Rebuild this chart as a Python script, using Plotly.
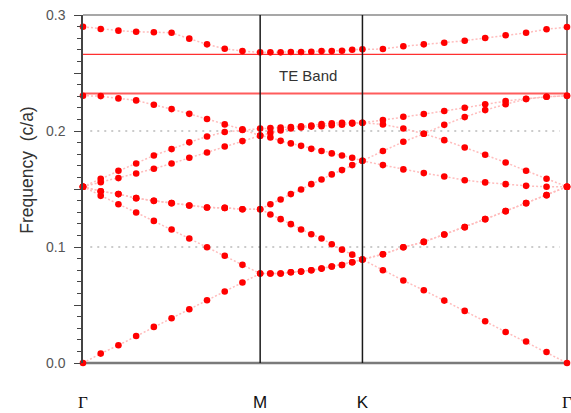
import numpy as np
import plotly.graph_objects as go

# ---- k-path (hexagonal lattice: Gamma-M-K-Gamma), 10 intervals per segment
seg_GM = 1 / np.sqrt(3)
seg_MK = 1 / 3
seg_KG = 2 / 3
n_int = 10
k_GM = np.linspace(0, seg_GM, n_int + 1)
k_MK = np.linspace(seg_GM, seg_GM + seg_MK, n_int + 1)[1:]
k_KG = np.linspace(seg_GM + seg_MK, seg_GM + seg_MK + seg_KG, n_int + 1)[1:]
k = np.concatenate([k_GM, k_MK, k_KG])
k_ticks = [0, seg_GM, seg_GM + seg_MK, seg_GM + seg_MK + seg_KG]
k_labels = ['<span style="font-family:Liberation Serif">Γ</span>', "M", "K",
            '<span style="font-family:Liberation Serif">Γ</span>']

# ---- band frequencies (c/a), 31 points each: Γ..M (11), M..K (10), K..Γ (10)
band1 = [0.0, 0.0081, 0.0153, 0.0233, 0.0311, 0.0386, 0.0463, 0.0541, 0.0616, 0.0694, 0.0771,
         0.0771, 0.0771, 0.0782, 0.0788, 0.0800, 0.0814, 0.0832, 0.0845, 0.0869, 0.0892,
         0.0800, 0.0711, 0.0627, 0.0538, 0.0449, 0.0360, 0.0267, 0.0185, 0.0095, 0.0]
band2 = [0.152, 0.1441, 0.1369, 0.1298, 0.1225, 0.1151, 0.1073, 0.0998, 0.0925, 0.0846, 0.0771,
         0.0771, 0.0771, 0.0782, 0.0788, 0.0800, 0.0814, 0.0832, 0.0845, 0.0869, 0.0892,
         0.0938, 0.0998, 0.1044, 0.1108, 0.1171, 0.1240, 0.1309, 0.1378, 0.1447, 0.152]
band3 = [0.152, 0.1481, 0.1456, 0.1421, 0.1398, 0.1378, 0.1358, 0.1341, 0.1337, 0.1326, 0.1326,
         0.1280, 0.1240, 0.1197, 0.1151, 0.1110, 0.1073, 0.1024, 0.0977, 0.0934, 0.0892,
         0.0938, 0.0998, 0.1044, 0.1108, 0.1171, 0.1240, 0.1309, 0.1378, 0.1447, 0.152]
band4 = [0.152, 0.1481, 0.1456, 0.1421, 0.1398, 0.1378, 0.1358, 0.1341, 0.1337, 0.1326, 0.1326,
         0.1369, 0.1410, 0.1456, 0.1496, 0.1542, 0.1582, 0.1626, 0.1663, 0.1706, 0.1743,
         0.1706, 0.1669, 0.1637, 0.1608, 0.1576, 0.1557, 0.1542, 0.1527, 0.1519, 0.152]
band5 = [0.152, 0.1559, 0.1594, 0.1634, 0.1674, 0.1720, 0.1769, 0.1815, 0.1867, 0.1913, 0.1960,
         0.1945, 0.1915, 0.1893, 0.1872, 0.1846, 0.1827, 0.1807, 0.1789, 0.1769, 0.1743,
         0.1827, 0.1907, 0.1976, 0.2053, 0.2120, 0.2180, 0.2230, 0.2275, 0.2295, 0.2304]
band6 = [0.152, 0.1588, 0.1657, 0.1720, 0.1789, 0.1844, 0.1902, 0.1953, 0.1991, 0.2008, 0.2022,
         0.2025, 0.2029, 0.2034, 0.2040, 0.2048, 0.2060, 0.2066, 0.2071, 0.2070, 0.2071,
         0.2094, 0.2123, 0.2146, 0.2172, 0.2200, 0.2230, 0.2258, 0.2278, 0.2295, 0.2304]
band7 = [0.2304, 0.2301, 0.2281, 0.2264, 0.2226, 0.2189, 0.2148, 0.2103, 0.2057, 0.2014, 0.1960,
         0.1984, 0.2005, 0.2021, 0.2031, 0.2038, 0.2042, 0.2049, 0.2054, 0.2064, 0.2071,
         0.2057, 0.2022, 0.1976, 0.1921, 0.1858, 0.1795, 0.1729, 0.1657, 0.1588, 0.152]
band8 = [0.2899, 0.2879, 0.2865, 0.2856, 0.2851, 0.2847, 0.2796, 0.2747, 0.2709, 0.2689, 0.2678,
         0.2678, 0.2678, 0.2681, 0.2681, 0.2683, 0.2689, 0.2689, 0.2692, 0.2701, 0.2704,
         0.2707, 0.2730, 0.2747, 0.2761, 0.2778, 0.2802, 0.2825, 0.2847, 0.2877, 0.2896]
bands = [band1, band2, band3, band4, band5, band6, band7, band8]

gap_edges = [0.2324, 0.2661]
gap_label = "TE Band"
y_tick_vals = [0.0, 0.05, 0.1, 0.15, 0.2, 0.25, 0.3]
y_tick_text = ["0.0", "", "0.1", "", "0.2", "", "0.3"]
grid_vals = [0.1, 0.2]

fig = go.Figure()

# connecting dotted lines (one trace, separated by None)
lx, ly = [], []
for b in bands:
    lx += list(k) + [None]
    ly += list(b) + [None]
fig.add_trace(go.Scatter(x=lx, y=ly, mode="lines",
                         line=dict(color="#ffbcbc", width=1.5, dash="2px,2px"),
                         hoverinfo="skip", showlegend=False))
# dots
mx, my = [], []
for b in bands:
    mx += list(k)
    my += list(b)
fig.add_trace(go.Scatter(x=mx, y=my, mode="markers",
                         marker=dict(color="#ff0000", size=6.6, line=dict(width=0)),
                         cliponaxis=False, showlegend=False))

shapes = []
# frame
shapes.append(dict(type="line", xref="paper", yref="paper", x0=0, x1=1, y0=0, y1=0,
                   line=dict(color="#7a7a7a", width=2.5), layer="below"))
shapes.append(dict(type="line", xref="paper", yref="paper", x0=1, x1=1, y0=0, y1=1,
                   line=dict(color="#7a7a7a", width=2), layer="below"))
shapes.append(dict(type="line", xref="paper", yref="paper", x0=0, x1=1, y0=1, y1=1,
                   line=dict(color="#8a8a8a", width=1.5), layer="below"))
# grid
for g in grid_vals:
    shapes.append(dict(type="line", xref="paper", yref="y", x0=0.015, x1=0.985, y0=g, y1=g,
                       line=dict(color="#bbbbbb", width=1.5, dash="2px,5px"), layer="below"))
# symmetry-point verticals
for kv in k_ticks[1:3]:
    shapes.append(dict(type="line", xref="x", yref="paper", x0=kv, x1=kv, y0=0, y1=1,
                       line=dict(color="#1a1a1a", width=1.5), layer="above"))
# gap edges
shapes.append(dict(type="line", xref="paper", yref="y", x0=0, x1=1, y0=gap_edges[0], y1=gap_edges[0],
                   line=dict(color="#ff5c5c", width=2), layer="below"))
shapes.append(dict(type="line", xref="paper", yref="y", x0=0, x1=1, y0=gap_edges[1], y1=gap_edges[1],
                   line=dict(color="#ff3030", width=1.3), layer="below"))

fig.update_layout(
    width=571, height=413,
    margin=dict(l=83, r=4, t=15, b=50),
    paper_bgcolor="white", plot_bgcolor="white",
    shapes=shapes,
    font=dict(family="Liberation Sans, Arial, sans-serif"),
    xaxis=dict(range=[0, k_ticks[-1]], tickmode="array", tickvals=k_ticks, ticktext=k_labels,
               ticks="", showgrid=False, zeroline=False, showline=False, automargin=False,
               ticklabeloverflow="allow",
               tickfont=dict(size=17, color="#111111"), ticklabelstandoff=27),
    yaxis=dict(range=[0, 0.3], tickmode="array", tickvals=y_tick_vals, ticktext=y_tick_text,
               ticks="outside", ticklen=7, tickwidth=1.2, tickcolor="#444444", automargin=False,
               minor=dict(tickmode="linear", tick0=0, dtick=0.01, ticks="outside", ticklen=4,
                          tickwidth=1, tickcolor="#444444", showgrid=False),
               showgrid=False, zeroline=False, showline=True, linecolor="#444444", linewidth=1.5,
               tickfont=dict(size=14, color="#555555"), ticklabelstandoff=6),
    annotations=[
        dict(text=gap_label, x=0.733, y=0.2482, xref="x", yref="y", showarrow=False,
             font=dict(size=15, color="#333333")),
        dict(text="Frequency\u00a0 (c/a)", x=-0.116, y=0.555, xref="paper", yref="paper",
             textangle=-90, showarrow=False, xanchor="center", yanchor="middle",
             font=dict(size=17.5, color="#333333")),
    ],
)

fig.write_html("out.html", config={"displayModeBar": False},
               post_script="document.body.style.margin='0';document.body.style.overflow='hidden';")
